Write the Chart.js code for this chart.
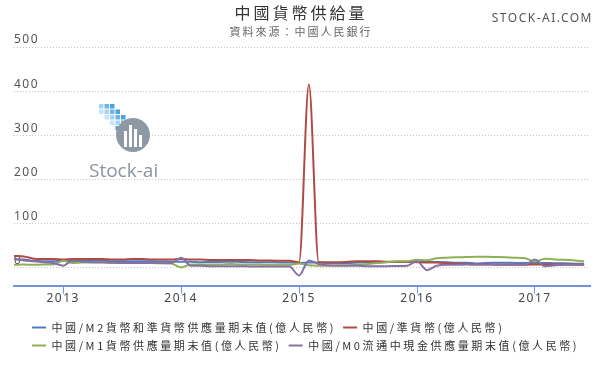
<!DOCTYPE html>
<html><head><meta charset="utf-8">
<script src="https://cdn.jsdelivr.net/npm/chart.js@4"></script>
<style>html,body{margin:0;padding:0;background:#fff}#wrap{width:600px;height:371px;position:relative}</style>
</head><body><div id="wrap"><canvas id="c"></canvas></div>
<script>
const months = [
 "2012-08","2012-09","2012-10","2012-11","2012-12",
 "2013-01","2013-02","2013-03","2013-04","2013-05","2013-06","2013-07","2013-08","2013-09","2013-10","2013-11","2013-12",
 "2014-01","2014-02","2014-03","2014-04","2014-05","2014-06","2014-07","2014-08","2014-09","2014-10","2014-11","2014-12",
 "2015-01","2015-02","2015-03","2015-04","2015-05","2015-06","2015-07","2015-08","2015-09","2015-10","2015-11","2015-12",
 "2016-01","2016-02","2016-03","2016-04","2016-05","2016-06","2016-07","2016-08","2016-09","2016-10","2016-11","2016-12",
 "2017-01","2017-02","2017-03","2017-04","2017-05","2017-06"
];
const seriesNames = [
 "中國/M2貨幣和準貨幣供應量期末值(億人民幣)",
 "中國/準貨幣(億人民幣)",
 "中國/M1貨幣供應量期末值(億人民幣)",
 "中國/M0流通中現金供應量期末值(億人民幣)"
];
const m2 = [20,19,16,15,15, 16,15.5,16,16,16,15,15,15,15,15,14.5,14, 14,14,13,13.5,13.5,14,13.5,13,13,13,12.5,12.5, 11,12.5,12,11,11,11,12.5,13,13,13.5,13.5,13.5, 14,13.3,13.4,12.8,11.8,11.8,10.2,11.4,11.5,11.6,11.4,11.3, 11.3,11.1,10.6,10.5,9.6,9.4];
const quasi = [27,26,21,20,20, 19,20,20,20,20,19,19,20,20,19,19,19, 20,19,19,18,18,18,18,18,17,17,16,16, 13,415,13,13,13,14,15,15,15,14,14,14, 13,12,12,11,10,9,8,8,7,7,7,7, 8,8,8,8,8,7];
const m1 = [7,7.5,7,7.5,8, 16,11,12,12,12,11,11,11,11,11,11,10, 1,8,8,8,8,9,8,8,7.5,7,7,7, 10,6,5,5,6,6,7,9,11,13,15,15, 18.6,17.4,22,23,24,24.6,25.4,25.3,24.7,24,23,22, 14.5,21,19,18.5,17,15];
const m0 = [20,17,15,13,11, 5,17,14,13,13,12,11,11,11,11,10.5,11, 23,5,5,4,4,4,4,3.5,3.5,3,3,3, -17,17,9,6,5,5,5,4,4,4,4.5,5, 15,-5,5,7,7,7.5,7.5,8,8,8,8,8, 19,4,6,7,7,7];
const yTicks = [0,100,200,300,400,500];
const titleText = "中國貨幣供給量";
const subtitleText = "資料來源：中國人民銀行";
const brandText = "STOCK-AI.COM";
const logoText = "Stock-ai";

const colors = ["#4f7cc0","#b04a46","#8fb055","#8670a6"];
const allSeries = [m2, quasi, m1, m0];
const yearIdx = months.map((m,i)=>m.endsWith("-01")?i:-1).filter(i=>i>=0);

const SPACING = '1.5px';
const LEG_SPACING = '2.6px';
const deco = {
  id:'deco',
  beforeUpdate(chart){
    chart.ctx.letterSpacing = SPACING;
    const L = chart.legend;
    if (L && !L._patched) {
      L._patched = true;
      const of = L.fit.bind(L), od = L.draw.bind(L);
      L.fit = function(){ const c = chart.ctx; const p = c.letterSpacing; c.letterSpacing = LEG_SPACING; of(); c.letterSpacing = p; };
      L.draw = function(a){ const c = chart.ctx; const p = c.letterSpacing; c.letterSpacing = LEG_SPACING; od(a); c.letterSpacing = p; };
    }
  },
  afterLayout(chart){
    const L = chart.legend; const dx = 11, dy = 11;
    L.left += dx; L.right += dx; L.top += dy; L.bottom += dy;
  },
  beforeDraw(chart){ chart.ctx.letterSpacing = SPACING; },
  beforeDatasetsDraw(chart){
    const ctx = chart.ctx;
    ctx.save();
    const blues = ["#a8d4f3","#6cb6ea","#4aa2e2","#c6e3f8"];
    const cells = [[0,0],[1,0],[2,0],[0,1],[1,1],[2,1],[3,1],[1,2],[2,2],[3,2],[4,2],[2,3],[3,3],[4,3],[3,4],[4,4]];
    cells.forEach(([cx,cy],k)=>{
      ctx.fillStyle = blues[k%4];
      ctx.fillRect(99+cx*5.5, 104+cy*5.5, 4.5, 4.5);
    });
    ctx.fillStyle = "#8e99a6";
    ctx.beginPath(); ctx.arc(133,135,17,0,Math.PI*2); ctx.fill();
    ctx.fillStyle = "#ffffff";
    [[124,131,3,16],[129,125,3,22],[134,129,3,18],[139,135,3,12]].forEach(r=>ctx.fillRect(...r));
    ctx.fillStyle = "#8a95a2";
    ctx.font = '19px "Open Sans", sans-serif';
    ctx.letterSpacing = '0px';
    ctx.textAlign = 'left'; ctx.textBaseline = 'alphabetic';
    ctx.fillText(logoText, 89, 177);
    ctx.restore();
    ctx.letterSpacing = SPACING;
  },
  afterDraw(chart){
    const ctx = chart.ctx;
    ctx.save();
    ctx.textBaseline = 'middle';
    ctx.textAlign = 'center';
    ctx.fillStyle = '#333';
    ctx.letterSpacing = '3px';
    ctx.font = '16px "Noto Sans CJK TC", sans-serif';
    ctx.fillText(titleText, 301, 13);
    ctx.fillStyle = '#666';
    ctx.letterSpacing = '2px';
    ctx.font = '11px "Noto Sans CJK TC", sans-serif';
    ctx.fillText(subtitleText, 301, 32);
    ctx.textAlign = 'right';
    ctx.fillStyle = '#555';
    ctx.letterSpacing = '1.5px';
    ctx.font = '12px "Noto Sans", sans-serif';
    ctx.fillText(brandText, 593, 19);
    ctx.restore();
  }
};

new Chart(document.getElementById('c'), {
  type:'line',
  data:{
    datasets: allSeries.map((arr,k)=>({
      label: seriesNames[k],
      data: arr.map((v,i)=>({x:i, y:v})),
      borderColor: colors[k],
      backgroundColor: colors[k],
      borderWidth: 2,
      pointRadius: 0,
      pointHoverRadius: 0,
      cubicInterpolationMode: 'monotone',
      fill: false,
      order: 4-k
    }))
  },
  options:{
    responsive:true, maintainAspectRatio:false, animation:false,
    layout:{ padding:{ left:14, right:10, top:47, bottom:21 } },
    plugins:{
      tooltip:{enabled:false},
      legend:{
        position:'bottom', align:'start',
        labels:{
          usePointStyle:true, pointStyle:'line', pointStyleWidth:14,
          padding:7, color:'#333',
          font:{ size:11, family:'"Noto Sans CJK TC", sans-serif' },
          sort:(a,b)=>a.datasetIndex-b.datasetIndex
        }
      }
    },
    scales:{
      x:{
        type:'linear', min:0, max:58.6,
        afterBuildTicks: s => { s.ticks = yearIdx.map(v=>({value:v})); },
        ticks:{ callback: v => months[v].slice(0,4), color:'#444', font:{size:12, family:'"Noto Sans", sans-serif'}, padding:-2, maxRotation:0, autoSkip:false },
        grid:{ drawOnChartArea:false, drawTicks:true, tickLength:8, tickColor:'#7592d4', tickWidth:1 },
        border:{ display:true, color:'#7592d4', width:2 }
      },
      y:{
        min:-40, max:500,
        afterBuildTicks: s => { s.ticks = yTicks.map(v=>({value:v})); },
        ticks:{ mirror:true, padding:0, labelOffset:-7, color:'#555', font:{size:12, family:'"Noto Sans", sans-serif'} },
        grid:{ color:'#c4c4c4', drawTicks:false, lineWidth:1 },
        border:{ display:false, dash:[1,2] }
      }
    }
  },
  plugins:[deco]
});
</script>
</body></html>
